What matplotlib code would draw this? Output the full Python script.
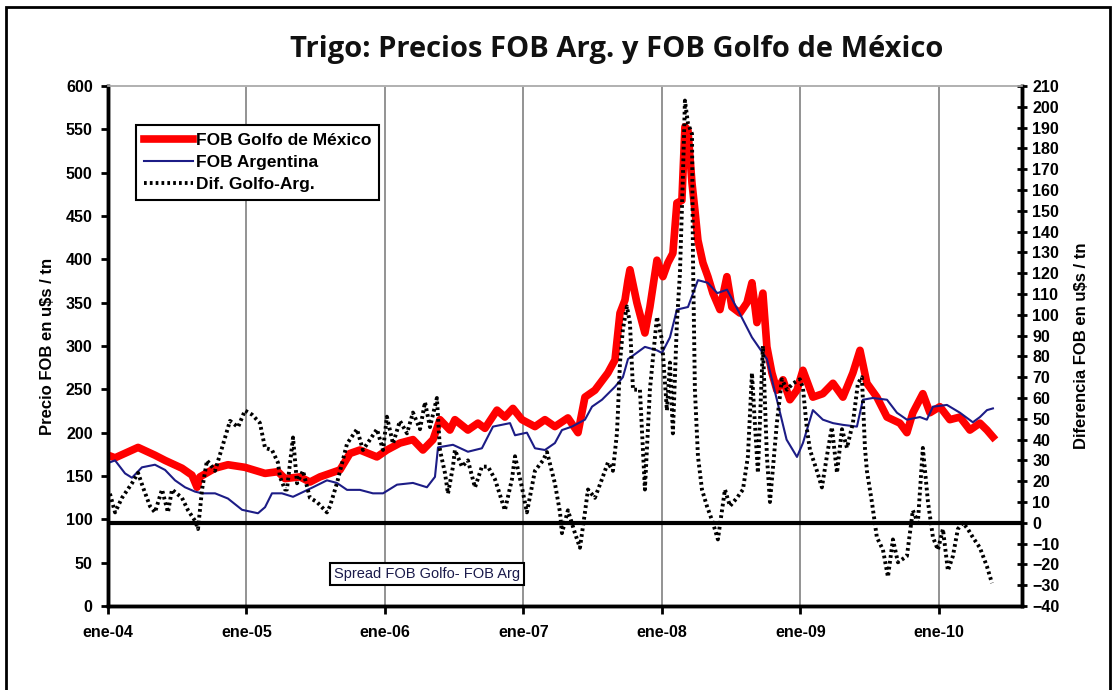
import matplotlib
matplotlib.use('Agg')
import matplotlib.pyplot as plt
import matplotlib.font_manager as fm
from matplotlib.patches import Rectangle

# ---------------- data (decimal years) ----------------
golfo_t = [2004.000, 2004.051, 2004.217, 2004.339, 2004.412, 2004.534, 2004.606, 2004.643, 2004.664,
           2004.773, 2004.866, 2004.989, 2005.134, 2005.227, 2005.278, 2005.386, 2005.458, 2005.531,
           2005.675, 2005.747, 2005.819, 2005.942, 2006.014, 2006.108, 2006.202, 2006.274, 2006.347,
           2006.397, 2006.469, 2006.505, 2006.599, 2006.671, 2006.722, 2006.809, 2006.866, 2006.924,
           2006.989, 2007.083, 2007.155, 2007.227, 2007.321, 2007.394, 2007.444, 2007.516, 2007.610,
           2007.661, 2007.697, 2007.733, 2007.755, 2007.769, 2007.819, 2007.877, 2007.913, 2007.964,
           2008.007, 2008.043, 2008.079, 2008.108, 2008.144, 2008.166, 2008.188, 2008.217, 2008.238,
           2008.260, 2008.296, 2008.332, 2008.368, 2008.419, 2008.469, 2008.505, 2008.563, 2008.614,
           2008.650, 2008.686, 2008.729, 2008.758, 2008.794, 2008.830, 2008.874, 2008.924, 2008.975,
           2009.018, 2009.090, 2009.162, 2009.235, 2009.307, 2009.379, 2009.430, 2009.480, 2009.552,
           2009.625, 2009.718, 2009.769, 2009.812, 2009.884, 2009.935, 2010.007, 2010.079, 2010.152,
           2010.224, 2010.296, 2010.347, 2010.390]
golfo_v = [174, 171, 183, 174, 168, 159, 151, 137, 149,
           159, 163, 160, 153, 155, 147, 149, 143, 149,
           157, 176, 180, 172, 180, 188, 192, 180, 192,
           215, 203, 215, 203, 211, 205, 226, 218, 228,
           215, 207, 215, 207, 217, 200, 241, 249, 269,
           284, 338, 353, 376, 388, 350, 315, 345, 399,
           380, 396, 407, 465, 468, 553, 549, 488, 457,
           422, 396, 380, 361, 342, 380, 345, 338, 350,
           373, 327, 361, 299, 269, 249, 261, 238, 249,
           272, 241, 245, 257, 241, 269, 295, 257, 241,
           218, 211, 200, 223, 245, 223, 230, 215, 218,
           203, 211, 203, 195]

arg_t = [2004.000, 2004.051, 2004.123, 2004.173, 2004.245, 2004.339, 2004.412, 2004.484, 2004.556,
         2004.628, 2004.679, 2004.773, 2004.866, 2004.968, 2005.083, 2005.134, 2005.184, 2005.256,
         2005.336, 2005.480, 2005.581, 2005.653, 2005.726, 2005.819, 2005.913, 2005.986, 2006.087,
         2006.202, 2006.303, 2006.361, 2006.383, 2006.491, 2006.599, 2006.700, 2006.780, 2006.903,
         2006.939, 2007.025, 2007.083, 2007.155, 2007.227, 2007.278, 2007.350, 2007.444, 2007.495,
         2007.567, 2007.661, 2007.718, 2007.755, 2007.800, 2007.877, 2007.964, 2008.000, 2008.058,
         2008.108, 2008.188, 2008.260, 2008.330, 2008.400, 2008.470, 2008.560, 2008.650, 2008.758,
         2008.830, 2008.900, 2008.975, 2009.018, 2009.090, 2009.162, 2009.235, 2009.307, 2009.408,
         2009.451, 2009.523, 2009.625, 2009.697, 2009.769, 2009.863, 2009.913, 2009.957, 2010.058,
         2010.152, 2010.245, 2010.296, 2010.347, 2010.390]
arg_v = [165, 168, 153, 148, 160, 163, 157, 145, 137,
         132, 130, 130, 124, 111, 107, 114, 130, 130,
         126, 137, 145, 142, 134, 134, 130, 130, 140,
         142, 137, 149, 183, 186, 178, 182, 207, 211,
         197, 200, 182, 180, 188, 203, 207, 215, 230,
         238, 253, 264, 285, 290, 299, 295, 292, 310,
         342, 345, 376, 373, 361, 365, 338, 310, 285,
         238, 192, 172, 188, 226, 215, 211, 209, 207,
         238, 240, 238, 223, 215, 218, 215, 230, 232,
         223, 212, 218, 226, 228]

dif_t = [2004.014, 2004.051, 2004.101, 2004.173, 2004.217, 2004.253, 2004.303, 2004.339, 2004.390,
         2004.433, 2004.462, 2004.534, 2004.578, 2004.628, 2004.650, 2004.679, 2004.715, 2004.773,
         2004.823, 2004.881, 2004.939, 2004.989, 2005.040, 2005.097, 2005.134, 2005.184, 2005.227,
         2005.242, 2005.278, 2005.292, 2005.336, 2005.365, 2005.408, 2005.458, 2005.509, 2005.581,
         2005.603, 2005.653, 2005.726, 2005.798, 2005.841, 2005.892, 2005.942, 2005.986, 2006.014,
         2006.058, 2006.108, 2006.159, 2006.202, 2006.253, 2006.289, 2006.325, 2006.375, 2006.397,
         2006.433, 2006.455, 2006.491, 2006.505, 2006.556, 2006.599, 2006.650, 2006.700, 2006.744,
         2006.794, 2006.866, 2006.917, 2006.939, 2006.989, 2007.025, 2007.083, 2007.141, 2007.170,
         2007.227, 2007.264, 2007.278, 2007.321, 2007.372, 2007.408, 2007.444, 2007.466, 2007.516,
         2007.567, 2007.610, 2007.646, 2007.675, 2007.682, 2007.697, 2007.718, 2007.747, 2007.769,
         2007.791, 2007.841, 2007.877, 2007.913, 2007.964, 2008.000, 2008.036, 2008.058, 2008.079,
         2008.108, 2008.130, 2008.152, 2008.166, 2008.188, 2008.217, 2008.224, 2008.238, 2008.260,
         2008.289, 2008.325, 2008.368, 2008.404, 2008.455, 2008.491, 2008.542, 2008.585, 2008.621,
         2008.650, 2008.671, 2008.693, 2008.729, 2008.758, 2008.780, 2008.830, 2008.866, 2008.903,
         2008.946, 2008.996, 2009.018, 2009.047, 2009.069, 2009.119, 2009.155, 2009.191, 2009.227,
         2009.264, 2009.300, 2009.336, 2009.379, 2009.415, 2009.444, 2009.466, 2009.480, 2009.516,
         2009.552, 2009.596, 2009.632, 2009.668, 2009.704, 2009.769, 2009.812, 2009.848, 2009.884,
         2009.921, 2009.957, 2009.993, 2010.029, 2010.065, 2010.101, 2010.137, 2010.173, 2010.209,
         2010.245, 2010.296, 2010.347, 2010.383]
dif_v = [14, 5, 12, 19, 24, 17, 8, 5, 16,
         5, 16, 12, 6, 1, -3, 16, 30, 25,
         36, 49, 46, 54, 52, 48, 36, 35, 29,
         22, 16, 16, 41, 19, 25, 12, 10, 5,
         8, 19, 38, 45, 35, 40, 45, 35, 51,
         38, 49, 43, 53, 45, 58, 46, 60, 35,
         24, 14, 27, 35, 27, 30, 17, 27, 27,
         21, 6, 21, 32, 17, 5, 25, 30, 34,
         19, 5, -5, 6, -5, -12, 5, 16, 12,
         21, 29, 25, 43, 53, 77, 93, 104, 96,
         64, 64, 16, 64, 99, 88, 54, 77, 43,
         96, 120, 168, 203, 192, 187, 128, 64, 32,
         16, 8, 0, -8, 16, 8, 12, 16, 32,
         72, 48, 24, 85, 32, 10, 48, 69, 64,
         67, 69, 65, 45, 35, 25, 17, 32, 46,
         24, 45, 36, 48, 67, 70, 36, 25, 10,
         -7, -13, -26, -8, -19, -16, 6, 0, 36,
         10, -7, -13, -3, -23, -16, -3, 0, -3,
         -7, -12, -21, -29]

year_ticks = [2004, 2005, 2006, 2007, 2008, 2009, 2010]
year_labels = ["ene-04", "ene-05", "ene-06", "ene-07", "ene-08", "ene-09", "ene-10"]
left_ticks = list(range(0, 601, 50))
right_ticks = list(range(-40, 211, 10))

# ---------------- fonts ----------------
names = {f.name for f in fm.fontManager.ttflist}
narrow = 'Liberation Sans Narrow' if 'Liberation Sans Narrow' in names else 'Liberation Sans'
plt.rcParams['font.family'] = [narrow, 'DejaVu Sans']

W, H = 1117, 690
fig = plt.figure(figsize=(W / 100, H / 100), dpi=100)

# outer frame
fig.patches.append(Rectangle((6 / W, -0.01), (1110 - 6) / W, (H - 7) / H + 0.01,
                             transform=fig.transFigure, fill=False, edgecolor='black',
                             linewidth=2, zorder=0))

ax = fig.add_axes([108 / W, 1 - 606 / H, (1022 - 108) / W, (606 - 86) / H])
ax2 = ax.twinx()

ax.plot(golfo_t, golfo_v, color='#ff0000', linewidth=5.5, solid_joinstyle='round',
        label='FOB Golfo de Mexico', zorder=3)
ax.plot(arg_t, arg_v, color='#1c1c86', linewidth=1.5, label='FOB Argentina', zorder=4)
ax2.plot(dif_t, dif_v, color='black', linewidth=2.8, linestyle=(0, (0.7, 0.8)),
         label='Dif. Golfo-Arg.', zorder=5)
ax2.axhline(0, color='black', linewidth=3, zorder=6)

ax.set_xlim(2004.0, 2010.60)
ax.set_ylim(0, 600)
ax2.set_ylim(-40, 210)

ax.set_xticks(year_ticks)
ax.set_xticklabels(year_labels)
ax.set_yticks(left_ticks)
ax2.set_yticks(right_ticks)
ax.grid(axis='x', color='#808080', linewidth=1.2)
ax.set_axisbelow(True)

for a in (ax, ax2):
    for s in ('left', 'bottom', 'right'):
        a.spines[s].set_linewidth(2.5)
        a.spines[s].set_color('black')
    a.spines['top'].set_color('#b0b0b0')
    a.spines['top'].set_linewidth(1.2)

ax.tick_params(axis='y', direction='out', length=5, width=2, labelsize=11.5, pad=6)
ax.tick_params(axis='x', direction='out', length=6, width=2, labelsize=11.5, pad=8)
ax2.tick_params(axis='y', direction='inout', length=7, width=2, labelsize=11.5, pad=4)
for lab in ax.get_xticklabels() + ax.get_yticklabels() + ax2.get_yticklabels():
    lab.set_fontweight('bold')

ax.set_ylabel('Precio FOB en u$s / tn', fontsize=12, fontweight='bold', labelpad=8)
ax2.set_ylabel('Diferencia FOB en u$s / tn', fontsize=12, fontweight='bold', labelpad=10)

fig.text(617 / W, 1 - 50 / H, 'Trigo: Precios FOB Arg. y FOB Golfo de México',
         ha='center', va='center', fontsize=21, fontweight='bold',
         family=['Open Sans', 'DejaVu Sans'], color='#111111')

# legend
h1, l1 = ax.get_legend_handles_labels()
h2, l2 = ax2.get_legend_handles_labels()
leg = ax2.legend(h1 + h2, ['FOB Golfo de México', 'FOB Argentina', 'Dif. Golfo-Arg.'],
                 loc='upper left', bbox_to_anchor=(0.031, 0.925), frameon=True, fancybox=False,
                 edgecolor='black', framealpha=1, fontsize=12.5, handlelength=2.8,
                 handletextpad=0.2, borderpad=0.45, labelspacing=0.4, borderaxespad=0)
leg.get_frame().set_linewidth(1.5)
for t in leg.get_texts():
    t.set_fontweight('bold')

ax2.text(0.349, 0.0615, 'Spread FOB Golfo- FOB Arg', transform=ax2.transAxes,
         ha='center', va='center', fontsize=10.5, color='#1a1a4a',
         bbox=dict(boxstyle='square,pad=0.25', facecolor='white', edgecolor='black', linewidth=1.5),
         zorder=10)

fig.savefig('out.png', dpi=100)
